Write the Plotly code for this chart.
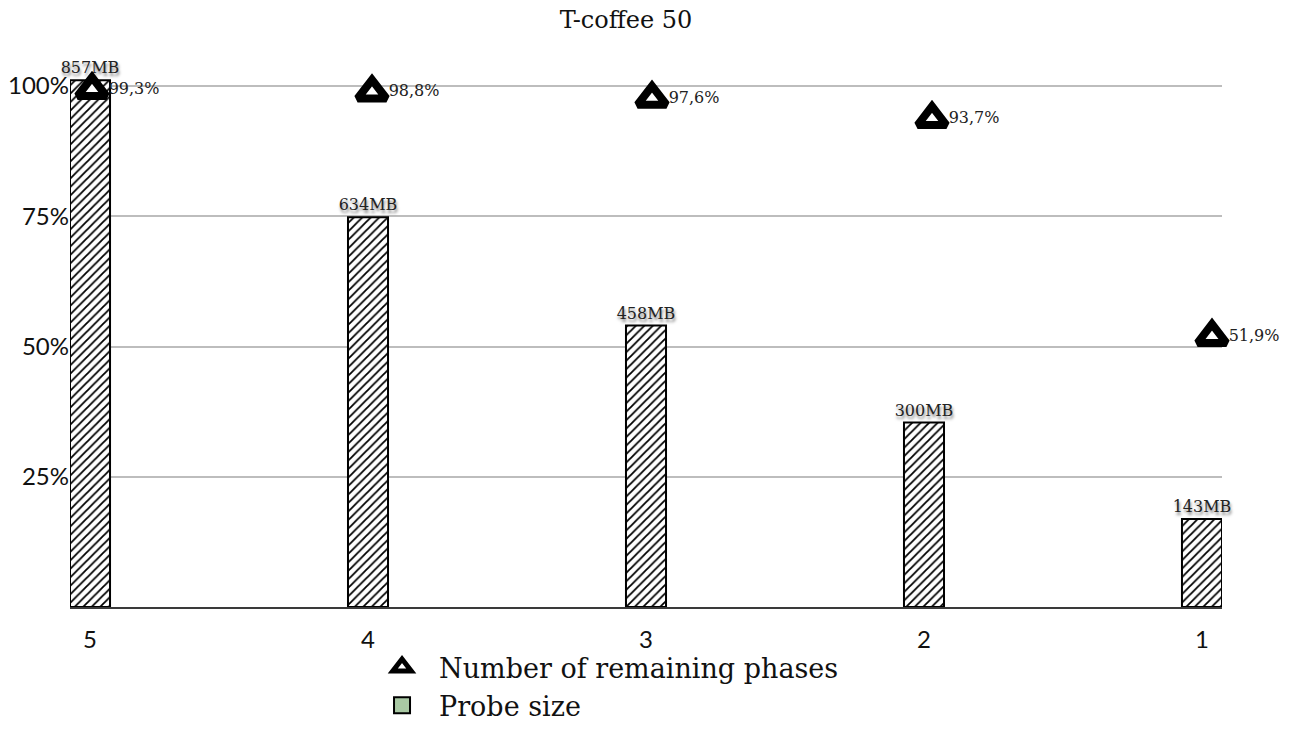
import plotly.graph_objects as go

# Data: T-coffee 50 probe sizes and share of remaining phases
phases = ["5", "4", "3", "2", "1"]
probe_mb = [857, 634, 458, 300, 143]
remaining_pct = [99.3, 98.8, 97.6, 93.7, 51.9]
y_ticks = [25, 50, 75, 100]
y_tick_labels = ["25%", "50%", "75%", "100%"]

positions = list(range(len(phases)))
pct_labels = [f"{v:.1f}".replace(".", ",") + "%" for v in remaining_pct]
mb_labels = [f"{v}MB" for v in probe_mb]

SERIF = "DejaVu Serif"
SANS = "Lato"

fig = go.Figure()

# Probe size bars (hatched), in MB on the base axes
fig.add_trace(go.Bar(
    x=positions, y=probe_mb,
    width=0.144,
    marker=dict(
        color="white",
        line=dict(color="black", width=2),
        pattern=dict(shape="/", fgcolor="black", bgcolor="white",
                     size=6, solidity=0.3, fgopacity=1),
    ),
    text=mb_labels, textposition="outside", cliponaxis=False,
    constraintext="none",
    textfont=dict(family=SERIF, size=16, color="#222",
                  shadow="1px 3px 3px rgba(0,0,0,0.5)"),
    showlegend=False, hoverinfo="skip",
))

# Remaining phases markers, on the percentage axes
fig.add_trace(go.Scatter(
    x=positions, y=remaining_pct, xaxis="x2", yaxis="y2",
    name="Number of remaining phases",
    mode="markers+text",
    marker=dict(symbol="triangle-up", size=25, color="white",
                line=dict(color="black", width=8)),
    text=pct_labels, textposition="middle right", cliponaxis=False,
    textfont=dict(family=SERIF, size=16, color="#222"),
))

# Legend swatch for the probe size bars
fig.add_trace(go.Scatter(
    x=[None], y=[None], xaxis="x2", yaxis="y2",
    name="Probe size", mode="markers",
    marker=dict(symbol="square", size=16, color="#a9c9a4",
                line=dict(color="black", width=2)),
))

fig.update_layout(
    width=1303, height=738,
    margin=dict(l=70, r=81, t=60, b=131),
    paper_bgcolor="white", plot_bgcolor="white",
    title=dict(text="T-coffee 50", x=626 / 1303, xanchor="center",
               y=1 - 20 / 738, yanchor="middle",
               font=dict(family=SERIF, size=24, color="#111")),
    xaxis=dict(range=[-0.072, 4.072], tickvals=positions, ticktext=phases,
               showgrid=False, zeroline=False, showline=True,
               linecolor="#3a3a3a", linewidth=2, automargin=False,
               tickfont=dict(family=SANS, size=24, color="#111"),
               ticklabelstandoff=10),
    yaxis=dict(range=[0, 890], showgrid=False, showticklabels=False,
               zeroline=False, showline=False, automargin=False),
    xaxis2=dict(overlaying="x", anchor="y2", range=[-0.0786, 4.0357],
                visible=False, automargin=False),
    yaxis2=dict(overlaying="y", anchor="x", side="left", range=[0, 105],
                tickvals=y_ticks, ticktext=y_tick_labels,
                showgrid=True, gridcolor="#bdbdbd", gridwidth=1.5,
                zeroline=False, showline=False, automargin=False,
                tickfont=dict(family=SANS, size=24, color="#111")),
    legend=dict(orientation="v", xref="paper", x=0.2561, xanchor="left",
                yref="container", y=1 - 643 / 738, yanchor="top",
                font=dict(family=SERIF, size=27, color="#111"),
                bgcolor="rgba(0,0,0,0)", itemwidth=64),
)

fig.write_html("out.html")
